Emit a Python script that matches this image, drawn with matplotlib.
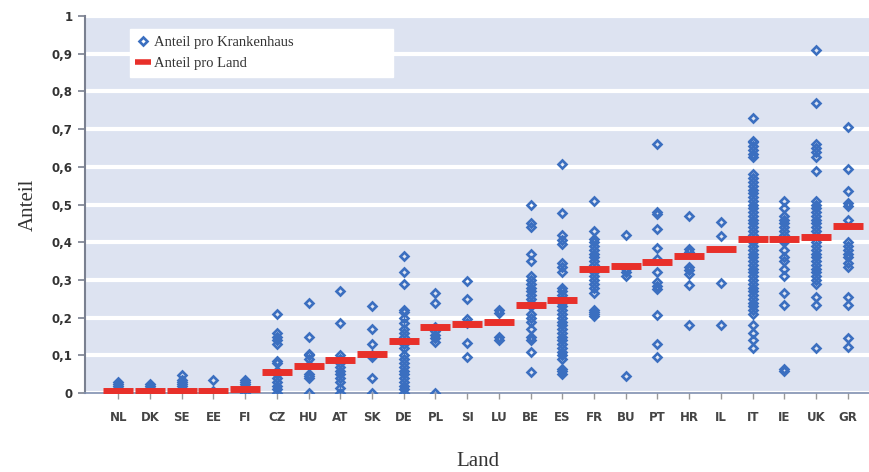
import matplotlib
matplotlib.use("Agg")
import matplotlib.pyplot as plt

# Laender und Werte
laender = ["NL", "DK", "SE", "EE", "FI", "CZ", "HU", "AT", "SK", "DE", "PL", "SI",
           "LU", "BE", "ES", "FR", "BU", "PT", "HR", "IL", "IT", "IE", "UK", "GR"]

anteil_land = [0.005, 0.005, 0.007, 0.007, 0.01, 0.057, 0.072, 0.088, 0.104, 0.138,
               0.176, 0.183, 0.19, 0.235, 0.247, 0.33, 0.337, 0.347, 0.365, 0.383,
               0.408, 0.41, 0.413, 0.443]

kh_NL = [0, 0.01, 0.015, 0.02, 0.025, 0.03]
kh_DK = [0, 0.01, 0.015, 0.02, 0.025]
kh_SE = [0, 0.01, 0.02, 0.025, 0.03, 0.035, 0.047]
kh_EE = [0, 0.005, 0.035]
kh_FI = [0, 0.01, 0.02, 0.025, 0.03, 0.035]
kh_CZ = [0.21, 0.16, 0.15, 0.14, 0.13, 0.085, 0.08, 0.06, 0.05, 0.04, 0.03, 0.02, 0.01, 0]
kh_HU = [0.24, 0.15, 0.105, 0.1, 0.09, 0.075, 0.05, 0.045, 0.04, 0]
kh_AT = [0.27, 0.185, 0.1, 0.09, 0.08, 0.07, 0.06, 0.05, 0.04, 0.03, 0.015, 0]
kh_SK = [0.23, 0.17, 0.13, 0.1, 0.095, 0.04, 0]
kh_DE = [0.365, 0.32, 0.29, 0.22, 0.215, 0.2, 0.185, 0.17, 0.16, 0.15, 0.13, 0.12,
         0.1, 0.09, 0.08, 0.07, 0.06, 0.05, 0.04, 0.03, 0.02, 0.01, 0]
kh_PL = [0.265, 0.24, 0.175, 0.165, 0.155, 0.145, 0.135, 0]
kh_SI = [0.298, 0.249, 0.198, 0.185, 0.134, 0.095]
kh_LU = [0.22, 0.212, 0.149, 0.14]
kh_BE = [0.50, 0.45, 0.44, 0.37, 0.35, 0.31, 0.30, 0.29, 0.28, 0.27, 0.26, 0.25, 0.24,
         0.23, 0.21, 0.2, 0.19, 0.17, 0.15, 0.14, 0.11, 0.055]
kh_ES = [0.607, 0.477, 0.42, 0.405, 0.395, 0.345, 0.335, 0.32, 0.28, 0.27, 0.26, 0.25,
         0.24, 0.23, 0.22, 0.21, 0.2, 0.19, 0.18, 0.17, 0.16, 0.15, 0.14, 0.13, 0.12,
         0.11, 0.1, 0.09, 0.065, 0.06, 0.05]
kh_FR = [0.51, 0.43, 0.41, 0.40, 0.39, 0.38, 0.37, 0.36, 0.35, 0.34, 0.32, 0.31, 0.30,
         0.29, 0.28, 0.265, 0.22, 0.215, 0.21, 0.205]
kh_BU = [0.42, 0.33, 0.32, 0.31, 0.045]
kh_PT = [0.66, 0.48, 0.475, 0.435, 0.385, 0.355, 0.32, 0.295, 0.285, 0.275, 0.207,
         0.13, 0.095]
kh_HR = [0.47, 0.381, 0.375, 0.335, 0.326, 0.317, 0.286, 0.18]
kh_IL = [0.454, 0.416, 0.291, 0.18]
kh_IT = [0.73, 0.67, 0.665, 0.655, 0.645, 0.635, 0.625, 0.58, 0.57, 0.56, 0.55, 0.54,
         0.53, 0.52, 0.51, 0.50, 0.49, 0.48, 0.47, 0.46, 0.45, 0.44, 0.43, 0.42, 0.41,
         0.40, 0.39, 0.38, 0.37, 0.36, 0.35, 0.34, 0.33, 0.32, 0.31, 0.30, 0.29, 0.28,
         0.27, 0.26, 0.25, 0.24, 0.23, 0.22, 0.21, 0.18, 0.16, 0.14, 0.12]
kh_IE = [0.51, 0.49, 0.47, 0.46, 0.45, 0.44, 0.43, 0.42, 0.41, 0.40, 0.38, 0.36, 0.35,
         0.33, 0.31, 0.265, 0.235, 0.065, 0.06]
kh_UK = [0.91, 0.77, 0.66, 0.65, 0.64, 0.625, 0.59, 0.51, 0.50, 0.49, 0.48, 0.47, 0.46,
         0.45, 0.44, 0.43, 0.42, 0.40, 0.39, 0.38, 0.37, 0.36, 0.35, 0.34, 0.33, 0.32,
         0.31, 0.30, 0.29, 0.255, 0.235, 0.12]
kh_GR = [0.706, 0.595, 0.535, 0.505, 0.495, 0.46, 0.40, 0.39, 0.38, 0.37, 0.36, 0.345,
         0.335, 0.255, 0.235, 0.145, 0.123]

anteil_kh = [kh_NL, kh_DK, kh_SE, kh_EE, kh_FI, kh_CZ, kh_HU, kh_AT, kh_SK, kh_DE,
             kh_PL, kh_SI, kh_LU, kh_BE, kh_ES, kh_FR, kh_BU, kh_PT, kh_HR, kh_IL,
             kh_IT, kh_IE, kh_UK, kh_GR]

y_ticks = [0, 0.1, 0.2, 0.3, 0.4, 0.5, 0.6, 0.7, 0.8, 0.9, 1]
y_labels = ["0", "0,1", "0,2", "0,3", "0,4", "0,5", "0,6", "0,7", "0,8", "0,9", "1"]

blau = "#3b6fc0"
rot = "#e8302a"

fig = plt.figure(figsize=(8.7, 4.72), dpi=100)
ax = fig.add_axes([0.098, 0.167, 0.902, 0.799])
ax.set_facecolor("#dde3f1")

xs, ys = [], []
for i, werte in enumerate(anteil_kh):
    xs += [i] * len(werte)
    ys += werte
ax.plot(xs, ys, linestyle="none", marker="D", markersize=4.5, markerfacecolor="none",
        markeredgecolor=blau, markeredgewidth=1.9, label="Anteil pro Krankenhaus", zorder=3)
ax.plot(range(len(laender)), anteil_land, linestyle="none", marker="_", markersize=22,
        markeredgewidth=5, color=rot, label="Anteil pro Land", zorder=4)

ax.set_xlim(-1.04, 23.7)
ax.set_ylim(0, 1)
ax.set_yticks(y_ticks)
ax.set_yticklabels(y_labels)
ax.set_xticks(range(len(laender)))
ax.set_xticklabels(laender)
ax.yaxis.grid(True, color="white", linewidth=3)
ax.set_axisbelow(True)

for s in ["top", "right"]:
    ax.spines[s].set_visible(False)
ax.spines["left"].set_color("#7a8090")
ax.spines["left"].set_linewidth(1.5)
ax.spines["bottom"].set_color("#8090b0")
ax.spines["bottom"].set_linewidth(1.2)

ax.tick_params(axis="y", length=5, width=1.2, color="#7a8090", pad=4,
               labelsize=8.5, labelcolor="#333333")
ax.tick_params(axis="x", length=4, width=1, color="#999999", pad=9,
               labelsize=8.5, labelcolor="#444444")
for lab in ax.get_xticklabels() + ax.get_yticklabels():
    lab.set_fontweight("bold")

ax.set_ylabel("Anteil", family="Liberation Serif", fontsize=15, color="#333333", labelpad=10)
ax.set_xlabel("Land", family="Liberation Serif", fontsize=15, color="#333333", labelpad=20)

leg = ax.legend(loc="upper left", bbox_to_anchor=(0.048, 0.985, 0.353, 0.0), mode="expand",
                frameon=True, fancybox=False, handlelength=0.9, handletextpad=0.3,
                borderpad=0.45, labelspacing=0.55,
                prop={"family": "Liberation Serif", "size": 10.5})
leg.get_frame().set_facecolor("white")
leg.get_frame().set_edgecolor("white")
leg.get_frame().set_alpha(1)
leg.legend_handles[1].set_markersize(11)
leg.legend_handles[1].set_markeredgewidth(4)
for t in leg.get_texts():
    t.set_color("#333333")

fig.savefig("out.png", dpi=100)
